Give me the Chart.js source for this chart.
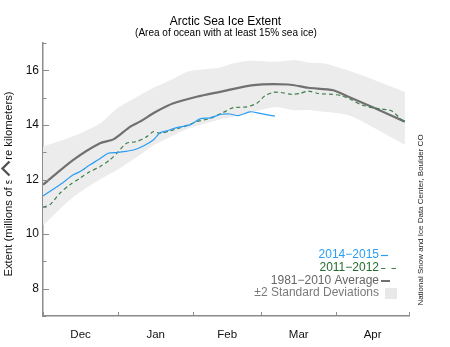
<!DOCTYPE html>
<html>
<head>
<meta charset="utf-8">
<script src="https://cdn.jsdelivr.net/npm/chart.js@4.4.0/dist/chart.umd.min.js"></script>
<style>
html, body { margin: 0; padding: 0; background: #fff; }
canvas { display: block; }
</style>
</head>
<body>
<canvas id="c" width="450" height="347"></canvas>
<script>
// days counted from Dec 1
const monthTicks = [0, 31, 62, 90, 121, 151]
const monthMids = [15.5, 46.5, 76, 105.5, 136]
const monthLabels = ['Dec', 'Jan', 'Feb', 'Mar', 'Apr']
const yLabels = [8, 10, 12, 14, 16]

const avgDays = [0, 12.5, 23.5, 29, 35.9, 40, 46.6, 53.8, 63.4, 73, 86.8, 101.2, 109.4, 119.7, 126, 137, 149.3]
const avgVals = [11.81, 12.72, 13.33, 13.47, 13.93, 14.12, 14.48, 14.79, 15.03, 15.21, 15.46, 15.48, 15.36, 15.27, 15.03, 14.61, 14.12]

const bandDays = [0, 12.4, 23.5, 30.5, 40, 45.4, 51.2, 59.4, 64.8, 73, 78.4, 85.4, 95.7, 104, 110.1, 116.3, 125.7, 136.9, 149.3]
const bandHigh = [13.2, 13.58, 14.05, 14.6, 15.09, 15.35, 15.58, 15.94, 16.02, 16.1, 16.25, 16.35, 16.31, 16.37, 16.28, 16.25, 16.0, 15.64, 15.21]
const bandLow = [10.32, 11.35, 12.0, 12.35, 12.9, 13.25, 13.5, 13.85, 14.0, 14.2, 14.3, 14.45, 14.65, 14.54, 14.54, 14.48, 14.36, 13.88, 13.27]

const days1415 = [0, 7, 12.5, 15.3, 19.4, 22.8, 26.9, 30.4, 33.1, 37.3, 41.4, 45.5, 48.3, 51, 55.2, 60.6, 64.8, 68.9, 73.7, 77.1, 80.6, 85.4, 89.5, 95.7]
const vals1415 = [11.40, 11.81, 12.17, 12.29, 12.54, 12.72, 12.96, 12.99, 13.02, 13.08, 13.23, 13.45, 13.71, 13.78, 13.90, 14.0, 14.22, 14.26, 14.39, 14.40, 14.34, 14.48, 14.42, 14.32]

const days1112 = [0, 2.9, 7, 11.1, 15.3, 19.4, 23.5, 27.6, 30.4, 34.5, 38.7, 42.8, 45.5, 48.3, 52.4, 57.9, 63.4, 68.9, 74.4, 78.5, 84, 88.2, 91.6, 95, 97.8, 102.6, 106, 109.4, 113.6, 119.1, 123.2, 127.4, 131.5, 135.6, 139.7, 143.9, 149.3]
const vals1112 = [10.99, 11.08, 11.50, 11.81, 12.05, 12.29, 12.47, 12.72, 12.96, 13.33, 13.39, 13.57, 13.75, 13.69, 13.78, 13.93, 14.12, 14.24, 14.46, 14.63, 14.66, 14.79, 15.07, 15.19, 15.19, 15.12, 15.15, 15.24, 15.15, 15.12, 15.07, 14.91, 14.73, 14.63, 14.58, 14.51, 14.06]

const FONT = '"Liberation Sans", Arial, Helvetica, sans-serif'
const AXIS = '#8c8c8c'
const BLUE = '#2a9df4'
const GREEN = '#3f7f4f'
const GRAY = '#707070'
const BAND = '#ececec'

function pts(xs, ys) {
  return xs.map((x, i) => ({ x: x, y: ys[i] }))
}

const decor = {
  id: 'decor',
  afterDraw(chart) {
    const ctx = chart.ctx
    const area = chart.chartArea
    const xs = chart.scales.x
    const ys = chart.scales.y
    ctx.save()

    // tick marks point inward
    ctx.strokeStyle = AXIS
    ctx.lineWidth = 1
    ys.ticks.forEach(t => {
      const y = Math.round(ys.getPixelForValue(t.value)) + 0.5
      const len = yLabels.includes(t.value) ? 6 : 3.5
      ctx.beginPath()
      ctx.moveTo(area.left, y)
      ctx.lineTo(area.left + len, y)
      ctx.stroke()
    })
    monthTicks.forEach(d => {
      const x = Math.round(xs.getPixelForValue(d)) + 0.5
      ctx.beginPath()
      ctx.moveTo(x, area.bottom)
      ctx.lineTo(x, area.bottom - 4)
      ctx.stroke()
    })

    // titles
    ctx.fillStyle = '#000'
    ctx.textAlign = 'center'
    ctx.textBaseline = 'alphabetic'
    ctx.font = '12px ' + FONT
    ctx.fillText('Arctic Sea Ice Extent', 225.5, 25)
    ctx.font = '10px ' + FONT
    ctx.fillText('(Area of ocean with at least 15% sea ice)', 226, 35.5)

    // y axis label, with the chevron mark that sits over it
    ctx.save()
    ctx.translate(9, 184)
    ctx.rotate(-Math.PI / 2)
    ctx.font = '11.3px ' + FONT
    ctx.textBaseline = 'middle'
    ctx.fillStyle = '#111'
    ctx.fillText('Extent (millions of square kilometers)', 0, 0)
    ctx.restore()
    ctx.fillStyle = '#fff'
    ctx.fillRect(0, 159.5, 17, 21)
    ctx.strokeStyle = '#555'
    ctx.lineWidth = 2.4
    ctx.beginPath()
    ctx.moveTo(9.5, 161.5)
    ctx.lineTo(2.5, 168.5)
    ctx.lineTo(9.5, 175.5)
    ctx.stroke()

    // credit
    ctx.save()
    ctx.translate(420.5, 220)
    ctx.rotate(-Math.PI / 2)
    ctx.font = '8px ' + FONT
    ctx.textAlign = 'center'
    ctx.textBaseline = 'middle'
    ctx.fillStyle = '#222'
    ctx.fillText('National Snow and Ice Data Center, Boulder CO', 0, 0)
    ctx.restore()

    // legend
    ctx.font = '12px ' + FONT
    ctx.textAlign = 'right'
    ctx.textBaseline = 'middle'
    const rows = [
      { text: '2014\u22122015', color: BLUE, y: 255 },
      { text: '2011\u22122012', color: '#236b2e', y: 268 },
      { text: '1981\u22122010 Average', color: '#666', y: 280.5 },
      { text: '\u00b12 Standard Deviations', color: '#7a7a7a', y: 293 }
    ]
    rows.forEach(r => {
      ctx.fillStyle = r.color
      ctx.fillText(r.text, 379, r.y)
    })
    ctx.lineWidth = 1.2
    ctx.strokeStyle = BLUE
    ctx.beginPath()
    ctx.moveTo(381, 255.5)
    ctx.lineTo(388, 255.5)
    ctx.stroke()
    ctx.strokeStyle = GREEN
    ctx.setLineDash([4.5, 6])
    ctx.beginPath()
    ctx.moveTo(381, 268.5)
    ctx.lineTo(397, 268.5)
    ctx.stroke()
    ctx.setLineDash([])
    ctx.strokeStyle = GRAY
    ctx.lineWidth = 2
    ctx.beginPath()
    ctx.moveTo(381, 281)
    ctx.lineTo(390, 281)
    ctx.stroke()
    ctx.fillStyle = '#e8e8e8'
    ctx.fillRect(385, 288, 12, 11)

    ctx.restore()
  }
}

new Chart(document.getElementById('c'), {
  type: 'line',
  data: {
    datasets: [
      { label: '2014-2015', data: pts(days1415, vals1415), borderColor: BLUE, borderWidth: 1.2, fill: false },
      { label: '2011-2012', data: pts(days1112, vals1112), borderColor: GREEN, borderWidth: 1.2, borderDash: [4, 3], fill: false },
      { label: '1981-2010 Average', data: pts(avgDays, avgVals), borderColor: GRAY, borderWidth: 2.2, fill: false },
      { label: 'high', data: pts(bandDays, bandHigh), borderWidth: 0, borderColor: 'rgba(0,0,0,0)', backgroundColor: BAND, fill: '+1' },
      { label: 'low', data: pts(bandDays, bandLow), borderWidth: 0, borderColor: 'rgba(0,0,0,0)', fill: false }
    ]
  },
  options: {
    responsive: false,
    animation: false,
    layout: { padding: { left: 0, right: 41, top: 43, bottom: 0 } },
    elements: { point: { radius: 0 }, line: { tension: 0.25 } },
    plugins: {
      legend: { display: false },
      tooltip: { enabled: false },
      filler: { drawTime: 'beforeDatasetsDraw' }
    },
    scales: {
      x: {
        type: 'linear',
        min: 0,
        max: 151,
        grid: { display: false, drawTicks: false },
        border: { display: true, color: AXIS, width: 1.5 },
        afterBuildTicks: s => { s.ticks = monthMids.map(v => ({ value: v })) },
        afterFit: s => { s.height = 31 },
        ticks: {
          autoSkip: false,
          maxRotation: 0,
          padding: 12,
          color: '#111',
          font: { family: FONT, size: 11.5 },
          callback: (v, i) => monthLabels[i]
        }
      },
      y: {
        min: 7,
        max: 17,
        grid: { display: false, drawTicks: false },
        border: { display: true, color: AXIS, width: 1.5 },
        afterFit: s => { s.width = 43 },
        ticks: {
          stepSize: 0.5,
          padding: 4,
          color: '#111',
          font: { family: FONT, size: 12 },
          callback: v => yLabels.includes(v) ? String(v) : ''
        }
      }
    }
  },
  plugins: [decor]
})
</script>
</body>
</html>
